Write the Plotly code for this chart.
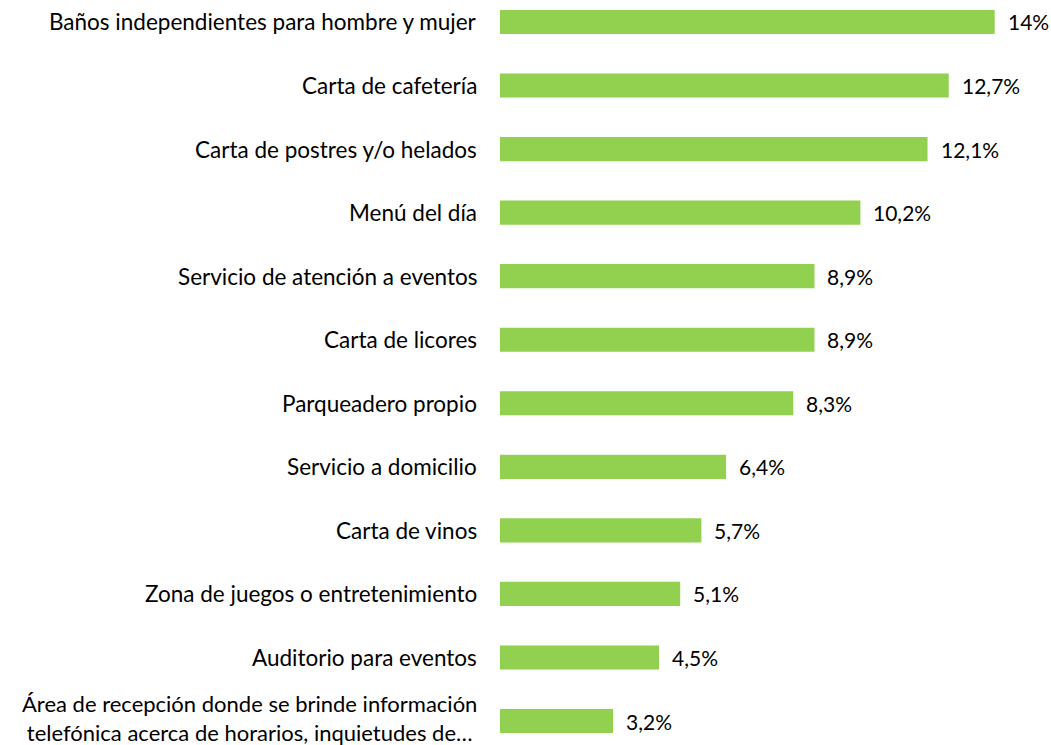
import plotly.graph_objects as go

categories = [
    "Baños independientes para hombre y mujer",
    "Carta de cafetería",
    "Carta de postres y/o helados",
    "Menú del día",
    "Servicio de atención a eventos",
    "Carta de licores",
    "Parqueadero propio",
    "Servicio a domicilio",
    "Carta de vinos",
    "Zona de juegos o entretenimiento",
    "Auditorio para eventos",
    "Área de recepción donde se brinde información<br>telefónica acerca de horarios, inquietudes de…",
]
values = [14, 12.7, 12.1, 10.2, 8.9, 8.9, 8.3, 6.4, 5.7, 5.1, 4.5, 3.2]

def fmt(v):
    return f"{v:g}".replace(".", ",") + "%"

FONT = "Lato"
fig = go.Figure()
fig.add_trace(go.Bar(
    y=categories, x=values, orientation="h",
    marker=dict(color="#92D050", line=dict(width=0)),
    hoverinfo="skip",
))

annotations = []
for c, v in zip(categories, values):
    multi = "<br>" in c
    annotations.append(dict(
        x=v, y=c, xref="x", yref="y", text=fmt(v), showarrow=False,
        xanchor="left", yanchor="middle", xshift=11,
        font=dict(family=FONT, size=21, color="#000000"),
    ))
    annotations.append(dict(
        x=0, y=c, xref="paper", yref="y", text=c, showarrow=False,
        xanchor="right", yanchor="middle", xshift=-21, yshift=3 if multi else 0,
        align="center",
        font=dict(family=FONT, size=22 if multi else 22.5, color="#000000"),
    ))

fig.update_layout(
    width=1051, height=745,
    margin=dict(l=500, r=21, t=0, b=0),
    paper_bgcolor="white", plot_bgcolor="white",
    bargap=0.62,
    showlegend=False,
    annotations=annotations,
    xaxis=dict(range=[0, 15], visible=False),
    yaxis=dict(type="category", categoryorder="array", categoryarray=categories,
               range=[11.377, -0.346], showticklabels=False, showgrid=False,
               zeroline=False, showline=False, ticks=""),
)
fig.write_html("out.html", config={"displayModeBar": False},
               post_script="document.body.style.margin='0';document.body.style.overflow='hidden';")
